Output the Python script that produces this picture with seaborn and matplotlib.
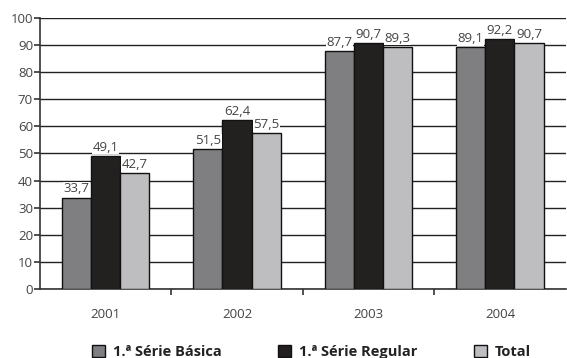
import matplotlib
matplotlib.use("Agg")
import matplotlib.pyplot as plt
import seaborn as sns
import pandas as pd
from matplotlib.patches import Patch

years = ["2001", "2002", "2003", "2004"]
series = ["1.ª Série Básica", "1.ª Série Regular", "Total"]
basica = [33.7, 51.5, 87.7, 89.1]
regular = [49.1, 62.4, 90.7, 92.2]
total = [42.7, 57.5, 89.3, 90.7]
colors = ["#7e7f82", "#231f20", "#bdbec1"]

rows = []
for s, vals in zip(series, [basica, regular, total]):
    for y, v in zip(years, vals):
        rows.append({"Ano": y, "Série": s, "Valor": v})
df = pd.DataFrame(rows)

sns.set_theme(style="white")
plt.rcParams["font.family"] = ["Open Sans", "DejaVu Sans"]

fig = plt.figure(figsize=(5.67, 3.58), dpi=100)
ax = fig.add_axes([0.0705, 0.193, 0.927, 0.757])

sns.barplot(data=df, x="Ano", y="Valor", hue="Série", hue_order=series,
            palette=colors, width=0.667, edgecolor="#111111", linewidth=1.0,
            ax=ax, legend=False, zorder=3)

for cont in ax.containers:
    labels = [f"{v:.1f}".replace(".", ",") for v in cont.datavalues]
    ax.bar_label(cont, labels=labels, padding=1.5, fontsize=9.5, color="#444444",
                 bbox=dict(facecolor="white", edgecolor="none", pad=0.5))

ax.set_ylim(0, 100)
ax.set_xlim(-0.5, 3.5)
ax.set_yticks(range(0, 101, 10))
ax.yaxis.grid(True, color="#222222", linewidth=1.0, zorder=0)
ax.set_axisbelow(True)
ax.set_xlabel("")
ax.set_ylabel("")
for side in ["top", "right"]:
    ax.spines[side].set_visible(False)
ax.spines["left"].set_color("#333333")
ax.spines["left"].set_linewidth(1.2)
ax.spines["bottom"].set_color("#333333")
ax.spines["bottom"].set_linewidth(1.2)

ax.tick_params(axis="y", which="major", direction="out", length=4, width=1.2,
               color="#333333", labelsize=9.5, labelcolor="#444444", pad=1, left=True)
ax.set_xticks(range(4))
ax.set_xticklabels(years)
ax.tick_params(axis="x", which="major", length=0, labelsize=9.5, labelcolor="#444444", pad=14)
ax.set_xticks([0.5, 1.5, 2.5], minor=True)
ax.tick_params(axis="x", which="minor", direction="out", length=4, width=1.2,
               color="#333333", bottom=True)

handles = [Patch(facecolor=c, edgecolor="#111111", linewidth=1.0) for c in colors]
fig.legend(handles, series, loc="center", bbox_to_anchor=(0.549, 0.017),
           ncol=3, frameon=False, handlelength=0.9, handleheight=0.9,
           columnspacing=3.9, handletextpad=0.5, borderpad=0,
           prop={"weight": "bold", "size": 10.5}, labelcolor="#222222")

fig.savefig("out.png", dpi=100)
